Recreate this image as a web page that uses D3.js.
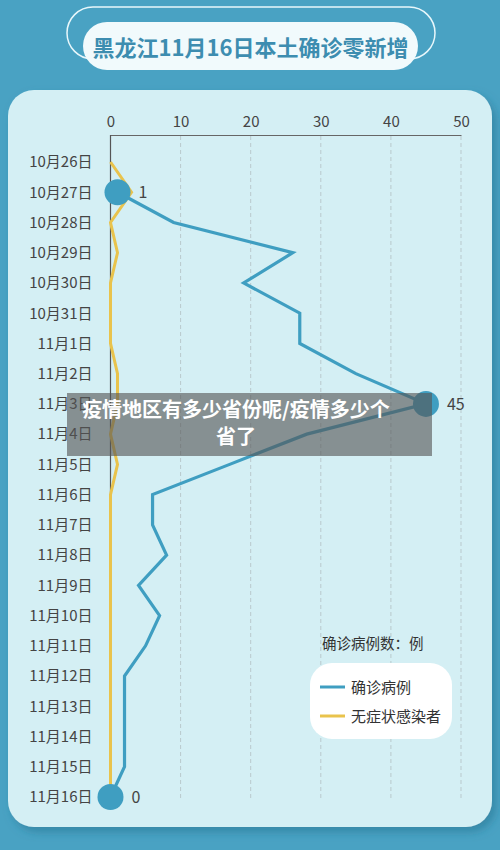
<!DOCTYPE html>
<html>
<head>
<meta charset="utf-8">
<script src="https://cdn.jsdelivr.net/npm/d3@7"></script>
<style>
html,body{margin:0;padding:0;background:#49a2c3;}
svg{display:block;}
text{font-family:"Noto Sans CJK SC","Noto Sans",sans-serif;}
</style>
</head>
<body>
<script>
const dates = ["10月26日","10月27日","10月28日","10月29日","10月30日","10月31日","11月1日","11月2日","11月3日","11月4日","11月5日","11月6日","11月7日","11月8日","11月9日","11月10日","11月11日","11月12日","11月13日","11月14日","11月15日","11月16日"];
const confirmed = [null,1,9,26,19,27,27,35,45,28,17,6,6,8,4,7,5,2,2,2,2,0];
const asymptomatic = [0,3,0,1,0,0,0,1,1,0,1,0,0,0,0,0,0,0,0,0,0,0];
const xTicks = [0,10,20,30,40,50];
const highlights = [{i:1,label:"1"},{i:8,label:"45"},{i:21,label:"0"}];
const titleText = "黑龙江11月16日本土确诊零新增";
const legendTitle = "确诊病例数：例";
const seriesNames = ["确诊病例","无症状感染者"];
const overlayLines = ["疫情地区有多少省份呢/疫情多少个","省了"];

const W=500,H=850;
const blue="#3f9ec1", yellow="#e9c34c";
const svg=d3.select("body").append("svg").attr("width",W).attr("height",H);

svg.append("rect").attr("width",W).attr("height",H).attr("fill","#49a2c3");

// title
svg.append("rect").attr("x",67).attr("y",7).attr("width",368).attr("height",52).attr("rx",26)
  .attr("fill","none").attr("stroke","#e8f7fb").attr("stroke-width",1.5);
svg.append("rect").attr("x",83).attr("y",22).attr("width",335).attr("height",48).attr("rx",24)
  .attr("fill","#f1fafc");
svg.append("text").attr("x",250.5).attr("y",56).attr("text-anchor","middle")
  .attr("font-size",22).attr("font-weight","bold").attr("fill","#3d8db0").text(titleText);

// panel with shadow
const defs=svg.append("defs");
const f=defs.append("filter").attr("id","sh").attr("x","-10%").attr("y","-10%").attr("width","120%").attr("height","120%");
f.append("feDropShadow").attr("dx",4).attr("dy",5).attr("stdDeviation",4).attr("flood-color","#1f6d8a").attr("flood-opacity",0.5);
svg.append("rect").attr("x",8).attr("y",90).attr("width",484).attr("height",737).attr("rx",26)
  .attr("fill","#d4eff4").attr("filter","url(#sh)");

const x=d3.scaleLinear().domain([0,50]).range([110.5,461]);
const y=d3.scalePoint().domain(dates).range([162,797]);

// grid
const g=svg.append("g");
g.selectAll(".grid").data(xTicks.filter(d=>d>0)).enter().append("line")
  .attr("x1",d=>x(d)).attr("x2",d=>x(d)).attr("y1",136).attr("y2",798)
  .attr("stroke","#b9c9cd").attr("stroke-width",1).attr("stroke-dasharray","4,3");

// top axis
const xAxis=d3.axisTop(x).tickValues(xTicks).tickSize(0).tickPadding(8);
const ax=svg.append("g").attr("transform","translate(0,135)").call(xAxis);
ax.select(".domain").attr("stroke","#666").attr("stroke-width",1.2);
ax.selectAll("text").attr("font-size",15).attr("fill","#444").attr("font-family","'Noto Sans CJK SC',sans-serif");

// left axis
const yAxis=d3.axisLeft(y).tickSize(0).tickPadding(18);
const ay=svg.append("g").attr("transform","translate(110.5,0)").call(yAxis);
ay.select(".domain").attr("d","M0,135V797").attr("stroke","#555").attr("stroke-width",1.2);
ay.selectAll("text").attr("font-size",15).attr("fill","#444").attr("font-family","'Noto Sans CJK SC',sans-serif");

// lines
const line=d3.line().defined(d=>d.v!==null).x(d=>x(d.v)).y(d=>y(d.d));
svg.append("path").datum(dates.map((d,i)=>({d,v:asymptomatic[i]})))
  .attr("d",line).attr("fill","none").attr("stroke",yellow).attr("stroke-width",3).attr("stroke-linejoin","miter");
svg.append("path").datum(dates.map((d,i)=>({d,v:confirmed[i]})))
  .attr("d",line).attr("fill","none").attr("stroke",blue).attr("stroke-width",3.2).attr("stroke-linejoin","miter");

// highlight points
highlights.forEach(h=>{
  const cx=x(confirmed[h.i]), cy=y(dates[h.i]);
  svg.append("circle").attr("cx",cx).attr("cy",cy).attr("r",13).attr("fill",blue);
  svg.append("text").attr("x",cx+21).attr("y",cy+6).attr("font-size",16).attr("fill","#444").text(h.label);
});

// legend
svg.append("text").attr("x",322).attr("y",649).attr("font-size",14.5).attr("fill","#333").text(legendTitle);
svg.append("rect").attr("x",310).attr("y",663).attr("width",142).attr("height",76).attr("rx",22).attr("fill","#ffffff");
[blue,yellow].forEach((c,i)=>{
  const ly=687+i*29;
  svg.append("line").attr("x1",320).attr("x2",345).attr("y1",ly).attr("y2",ly).attr("stroke",c).attr("stroke-width",3);
  svg.append("text").attr("x",351).attr("y",ly+5.5).attr("font-size",15).attr("fill","#333").text(seriesNames[i]);
});

// overlay banner
svg.append("rect").attr("x",67).attr("y",393).attr("width",365).attr("height",63).attr("fill","rgba(85,85,85,0.62)");
overlayLines.forEach((t,i)=>{
  svg.append("text").attr("x",236).attr("y",417+i*27).attr("text-anchor","middle")
    .attr("font-size",20).attr("font-weight","bold").attr("fill","#ffffff").text(t);
});
</script>
</body>
</html>
